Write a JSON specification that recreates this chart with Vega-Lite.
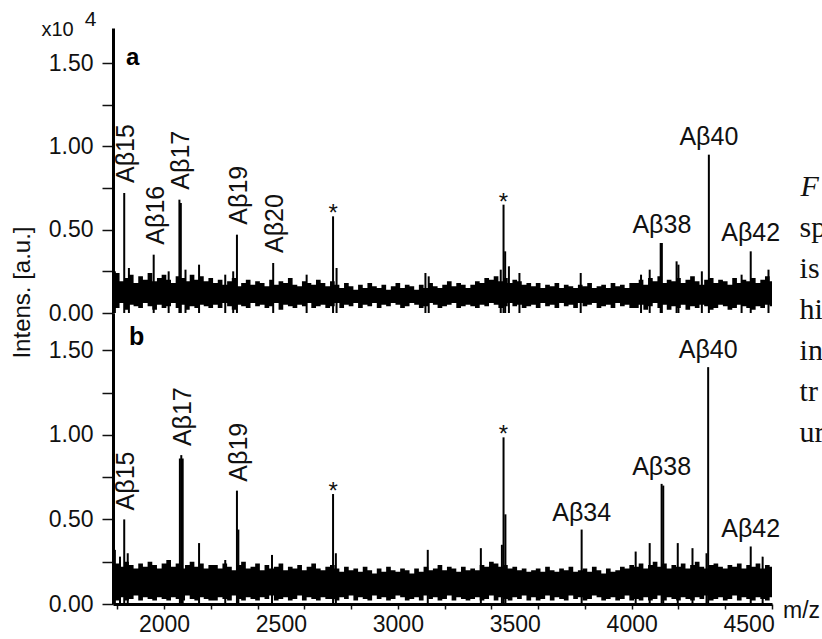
{
"$schema": "https://vega.github.io/schema/vega-lite/v6.json",
"background": "white",
"padding": {"left": 10, "top": 8, "right": 0, "bottom": 0},
"config": {
  "view": {"stroke": null},
  "font": "Liberation Sans",
  "axis": {"grid": false, "domainColor": "#000", "domainWidth": 3, "tickColor": "#111", "tickWidth": 1.5, "labelColor": "#111", "labelFont": "Liberation Sans", "labelFontSize": 23, "titleFont": "Liberation Sans", "titleFontWeight": "normal", "titleColor": "#111", "labelOverlap": false},
  "text": {"font": "Liberation Sans", "color": "#111"}
},
"datasets": {
  "bandA": [
    {"m":1780,"l":0.04,"h":0.22},{"m":1800,"l":0.03,"h":0.24},{"m":1820,"l":0.06,"h":0.19},{"m":1840,"l":0.02,"h":0.21},{"m":1860,"l":0.05,"h":0.23},{"m":1880,"l":0.04,"h":0.18},{"m":1900,"l":0.03,"h":0.22},{"m":1920,"l":0.06,"h":0.20},{"m":1940,"l":0.04,"h":0.24},{"m":1960,"l":0.02,"h":0.19},{"m":1980,"l":0.05,"h":0.21},{"m":2000,"l":0.03,"h":0.23},{"m":2020,"l":0.04,"h":0.20},{"m":2040,"l":0.06,"h":0.18},{"m":2060,"l":0.03,"h":0.22},{"m":2080,"l":0.05,"h":0.21},{"m":2100,"l":0.02,"h":0.19},{"m":2120,"l":0.04,"h":0.23},{"m":2140,"l":0.03,"h":0.20},{"m":2160,"l":0.05,"h":0.22},{"m":2180,"l":0.04,"h":0.19},{"m":2200,"l":0.03,"h":0.21},
    {"m":2220,"l":0.05,"h":0.18},{"m":2240,"l":0.03,"h":0.20},{"m":2260,"l":0.06,"h":0.17},{"m":2280,"l":0.04,"h":0.19},{"m":2300,"l":0.02,"h":0.21},{"m":2320,"l":0.05,"h":0.16},{"m":2340,"l":0.04,"h":0.18},{"m":2360,"l":0.03,"h":0.20},{"m":2380,"l":0.06,"h":0.17},{"m":2400,"l":0.04,"h":0.19},{"m":2420,"l":0.05,"h":0.18},{"m":2440,"l":0.03,"h":0.16},{"m":2460,"l":0.04,"h":0.20},{"m":2480,"l":0.06,"h":0.17},{"m":2500,"l":0.02,"h":0.19},{"m":2520,"l":0.05,"h":0.18},{"m":2540,"l":0.04,"h":0.21},{"m":2560,"l":0.03,"h":0.17},{"m":2580,"l":0.05,"h":0.16},{"m":2600,"l":0.04,"h":0.19},{"m":2620,"l":0.06,"h":0.18},{"m":2640,"l":0.03,"h":0.17},{"m":2660,"l":0.04,"h":0.20},{"m":2680,"l":0.05,"h":0.18},{"m":2700,"l":0.03,"h":0.16},
    {"m":2720,"l":0.04,"h":0.19},{"m":2740,"l":0.06,"h":0.17},{"m":2760,"l":0.03,"h":0.15},{"m":2780,"l":0.05,"h":0.18},{"m":2800,"l":0.04,"h":0.16},{"m":2820,"l":0.06,"h":0.14},{"m":2840,"l":0.03,"h":0.17},{"m":2860,"l":0.05,"h":0.15},{"m":2880,"l":0.04,"h":0.18},{"m":2900,"l":0.06,"h":0.16},{"m":2920,"l":0.03,"h":0.15},{"m":2940,"l":0.05,"h":0.17},{"m":2960,"l":0.04,"h":0.14},{"m":2980,"l":0.06,"h":0.16},{"m":3000,"l":0.05,"h":0.18},{"m":3020,"l":0.03,"h":0.15},{"m":3040,"l":0.04,"h":0.17},{"m":3060,"l":0.06,"h":0.16},{"m":3080,"l":0.05,"h":0.14},{"m":3100,"l":0.03,"h":0.17},{"m":3120,"l":0.04,"h":0.15},{"m":3140,"l":0.06,"h":0.18},{"m":3160,"l":0.05,"h":0.16},{"m":3180,"l":0.03,"h":0.15},{"m":3200,"l":0.04,"h":0.17},{"m":3220,"l":0.05,"h":0.19},{"m":3240,"l":0.06,"h":0.16},{"m":3260,"l":0.03,"h":0.18},{"m":3280,"l":0.04,"h":0.17},{"m":3300,"l":0.05,"h":0.15},
    {"m":3320,"l":0.04,"h":0.17},{"m":3340,"l":0.03,"h":0.19},{"m":3360,"l":0.05,"h":0.18},{"m":3380,"l":0.04,"h":0.21},{"m":3400,"l":0.06,"h":0.20},{"m":3420,"l":0.05,"h":0.22},{"m":3440,"l":0.03,"h":0.19},{"m":3460,"l":0.04,"h":0.21},{"m":3480,"l":0.06,"h":0.18},{"m":3500,"l":0.04,"h":0.20},{"m":3520,"l":0.05,"h":0.19},{"m":3540,"l":0.03,"h":0.17},{"m":3560,"l":0.04,"h":0.18},
    {"m":3580,"l":0.05,"h":0.16},{"m":3600,"l":0.03,"h":0.18},{"m":3620,"l":0.06,"h":0.15},{"m":3640,"l":0.04,"h":0.17},{"m":3660,"l":0.05,"h":0.16},{"m":3680,"l":0.03,"h":0.18},{"m":3700,"l":0.06,"h":0.15},{"m":3720,"l":0.04,"h":0.17},{"m":3740,"l":0.05,"h":0.16},{"m":3760,"l":0.03,"h":0.15},{"m":3780,"l":0.06,"h":0.17},{"m":3800,"l":0.04,"h":0.16},{"m":3820,"l":0.05,"h":0.18},{"m":3840,"l":0.06,"h":0.15},{"m":3860,"l":0.03,"h":0.16},{"m":3880,"l":0.04,"h":0.17},{"m":3900,"l":0.05,"h":0.15},{"m":3920,"l":0.03,"h":0.18},{"m":3940,"l":0.06,"h":0.16},{"m":3960,"l":0.04,"h":0.17},{"m":3980,"l":0.05,"h":0.15},{"m":4000,"l":0.03,"h":0.18},
    {"m":4020,"l":0.03,"h":0.18},{"m":4040,"l":0.05,"h":0.20},{"m":4060,"l":0.02,"h":0.17},{"m":4080,"l":0.04,"h":0.21},{"m":4100,"l":0.06,"h":0.19},{"m":4120,"l":0.03,"h":0.22},{"m":4140,"l":0.05,"h":0.18},{"m":4160,"l":0.02,"h":0.20},{"m":4180,"l":0.04,"h":0.19},{"m":4200,"l":0.03,"h":0.21},{"m":4220,"l":0.05,"h":0.18},{"m":4240,"l":0.02,"h":0.20},{"m":4260,"l":0.04,"h":0.22},{"m":4280,"l":0.03,"h":0.19},{"m":4300,"l":0.05,"h":0.17},{"m":4320,"l":0.04,"h":0.20},{"m":4340,"l":0.02,"h":0.21},{"m":4360,"l":0.03,"h":0.18},{"m":4380,"l":0.05,"h":0.20},{"m":4400,"l":0.04,"h":0.19},{"m":4420,"l":0.02,"h":0.17},{"m":4440,"l":0.03,"h":0.21},{"m":4460,"l":0.05,"h":0.18},{"m":4480,"l":0.04,"h":0.20},{"m":4500,"l":0.03,"h":0.19},{"m":4520,"l":0.02,"h":0.21},{"m":4540,"l":0.04,"h":0.18},{"m":4560,"l":0.03,"h":0.20},{"m":4580,"l":0.05,"h":0.22},{"m":4600,"l":0.04,"h":0.19}
  ],
  "bandB": [
    {"m":1780,"l":0.03,"h":0.26},{"m":1800,"l":0.02,"h":0.24},{"m":1820,"l":0.04,"h":0.22},{"m":1840,"l":0.02,"h":0.25},{"m":1860,"l":0.03,"h":0.23},{"m":1880,"l":0.05,"h":0.21},{"m":1900,"l":0.02,"h":0.24},{"m":1920,"l":0.04,"h":0.22},{"m":1940,"l":0.03,"h":0.25},{"m":1960,"l":0.02,"h":0.23},{"m":1980,"l":0.04,"h":0.21},{"m":2000,"l":0.03,"h":0.24},{"m":2020,"l":0.02,"h":0.26},{"m":2040,"l":0.04,"h":0.22},{"m":2060,"l":0.03,"h":0.24},{"m":2080,"l":0.02,"h":0.21},{"m":2100,"l":0.05,"h":0.23},{"m":2120,"l":0.03,"h":0.25},{"m":2140,"l":0.02,"h":0.22},{"m":2160,"l":0.04,"h":0.24},{"m":2180,"l":0.03,"h":0.21},{"m":2200,"l":0.02,"h":0.23},
    {"m":2220,"l":0.02,"h":0.23},{"m":2240,"l":0.04,"h":0.21},{"m":2260,"l":0.03,"h":0.24},{"m":2280,"l":0.02,"h":0.22},{"m":2300,"l":0.05,"h":0.20},{"m":2320,"l":0.03,"h":0.23},{"m":2340,"l":0.02,"h":0.25},{"m":2360,"l":0.04,"h":0.21},{"m":2380,"l":0.03,"h":0.22},{"m":2400,"l":0.02,"h":0.24},{"m":2420,"l":0.04,"h":0.20},{"m":2440,"l":0.03,"h":0.23},{"m":2460,"l":0.05,"h":0.21},{"m":2480,"l":0.02,"h":0.22},{"m":2500,"l":0.03,"h":0.24},{"m":2520,"l":0.04,"h":0.20},{"m":2540,"l":0.02,"h":0.22},{"m":2560,"l":0.03,"h":0.21},{"m":2580,"l":0.05,"h":0.23},{"m":2600,"l":0.02,"h":0.20},{"m":2620,"l":0.04,"h":0.22},{"m":2640,"l":0.03,"h":0.24},{"m":2660,"l":0.02,"h":0.21},{"m":2680,"l":0.04,"h":0.20},{"m":2700,"l":0.03,"h":0.22},
    {"m":2720,"l":0.03,"h":0.23},{"m":2740,"l":0.02,"h":0.21},{"m":2760,"l":0.04,"h":0.19},{"m":2780,"l":0.03,"h":0.22},{"m":2800,"l":0.05,"h":0.20},{"m":2820,"l":0.02,"h":0.21},{"m":2840,"l":0.04,"h":0.19},{"m":2860,"l":0.03,"h":0.22},{"m":2880,"l":0.02,"h":0.20},{"m":2900,"l":0.05,"h":0.18},{"m":2920,"l":0.03,"h":0.21},{"m":2940,"l":0.04,"h":0.19},{"m":2960,"l":0.02,"h":0.22},{"m":2980,"l":0.03,"h":0.20},{"m":3000,"l":0.05,"h":0.19},{"m":3020,"l":0.04,"h":0.21},{"m":3040,"l":0.02,"h":0.20},{"m":3060,"l":0.03,"h":0.18},{"m":3080,"l":0.04,"h":0.21},{"m":3100,"l":0.02,"h":0.19},{"m":3120,"l":0.05,"h":0.22},{"m":3140,"l":0.03,"h":0.20},{"m":3160,"l":0.04,"h":0.21},{"m":3180,"l":0.02,"h":0.23},{"m":3200,"l":0.03,"h":0.20},{"m":3220,"l":0.05,"h":0.22},{"m":3240,"l":0.02,"h":0.21},{"m":3260,"l":0.04,"h":0.19},{"m":3280,"l":0.03,"h":0.22},{"m":3300,"l":0.02,"h":0.20},
    {"m":3320,"l":0.03,"h":0.21},{"m":3340,"l":0.04,"h":0.20},{"m":3360,"l":0.02,"h":0.23},{"m":3380,"l":0.03,"h":0.22},{"m":3400,"l":0.05,"h":0.25},{"m":3420,"l":0.02,"h":0.24},{"m":3440,"l":0.04,"h":0.22},{"m":3460,"l":0.03,"h":0.23},{"m":3480,"l":0.02,"h":0.21},{"m":3500,"l":0.04,"h":0.22},{"m":3520,"l":0.03,"h":0.20},{"m":3540,"l":0.05,"h":0.21},{"m":3560,"l":0.02,"h":0.19},
    {"m":3580,"l":0.04,"h":0.20},{"m":3600,"l":0.02,"h":0.21},{"m":3620,"l":0.03,"h":0.19},{"m":3640,"l":0.05,"h":0.22},{"m":3660,"l":0.02,"h":0.20},{"m":3680,"l":0.04,"h":0.19},{"m":3700,"l":0.03,"h":0.21},{"m":3720,"l":0.02,"h":0.20},{"m":3740,"l":0.05,"h":0.22},{"m":3760,"l":0.03,"h":0.19},{"m":3780,"l":0.04,"h":0.20},{"m":3800,"l":0.02,"h":0.21},{"m":3820,"l":0.03,"h":0.19},{"m":3840,"l":0.05,"h":0.22},{"m":3860,"l":0.04,"h":0.20},{"m":3880,"l":0.02,"h":0.18},{"m":3900,"l":0.03,"h":0.21},{"m":3920,"l":0.04,"h":0.19},{"m":3940,"l":0.02,"h":0.20},{"m":3960,"l":0.03,"h":0.22},{"m":3980,"l":0.05,"h":0.21},{"m":4000,"l":0.02,"h":0.23},
    {"m":4020,"l":0.03,"h":0.22},{"m":4040,"l":0.02,"h":0.24},{"m":4060,"l":0.04,"h":0.21},{"m":4080,"l":0.02,"h":0.23},{"m":4100,"l":0.03,"h":0.25},{"m":4120,"l":0.05,"h":0.22},{"m":4140,"l":0.02,"h":0.24},{"m":4160,"l":0.04,"h":0.21},{"m":4180,"l":0.03,"h":0.23},{"m":4200,"l":0.02,"h":0.22},{"m":4220,"l":0.04,"h":0.24},{"m":4240,"l":0.03,"h":0.21},{"m":4260,"l":0.02,"h":0.23},{"m":4280,"l":0.04,"h":0.25},{"m":4300,"l":0.03,"h":0.22},{"m":4320,"l":0.05,"h":0.21},{"m":4340,"l":0.02,"h":0.23},{"m":4360,"l":0.03,"h":0.24},{"m":4380,"l":0.04,"h":0.22},{"m":4400,"l":0.02,"h":0.21},{"m":4420,"l":0.03,"h":0.23},{"m":4440,"l":0.05,"h":0.22},{"m":4460,"l":0.02,"h":0.24},{"m":4480,"l":0.04,"h":0.21},{"m":4500,"l":0.03,"h":0.23},{"m":4520,"l":0.02,"h":0.22},{"m":4540,"l":0.04,"h":0.24},{"m":4560,"l":0.03,"h":0.21},{"m":4580,"l":0.02,"h":0.23},{"m":4600,"l":0.04,"h":0.22}
  ],
  "peaksA": [
    {"m":1790,"v":0.25},{"m":1830,"v":0.72,"t":"Aβ15","k":"r"},{"m":1850,"v":0.27},{"m":1956,"v":0.35,"t":"Aβ16","k":"r"},{"m":2020,"v":0.25},{"m":2066,"v":0.68,"t":"Aβ17","k":"r"},{"m":2072,"v":0.66},{"m":2092,"v":0.26},{"m":2150,"v":0.29},{"m":2262,"v":0.23},{"m":2296,"v":0.25},{"m":2312,"v":0.47,"t":"Aβ19","k":"r"},{"m":2467,"v":0.30,"t":"Aβ20","k":"r"},{"m":2610,"v":0.23},{"m":2723,"v":0.58,"t":"*","k":"s"},{"m":2738,"v":0.27},{"m":3118,"v":0.24},{"m":3132,"v":0.22},{"m":3440,"v":0.26},{"m":3452,"v":0.65,"t":"*","k":"s"},{"m":3459,"v":0.37},{"m":3475,"v":0.28},{"m":3520,"v":0.24},{"m":3782,"v":0.24},{"m":4040,"v":0.23},{"m":4077,"v":0.26},{"m":4124,"v":0.42},{"m":4129,"v":0.42,"t":"Aβ38","k":"h"},{"m":4192,"v":0.31},{"m":4200,"v":0.29},{"m":4300,"v":0.25},{"m":4330,"v":0.95,"t":"Aβ40","k":"h"},{"m":4470,"v":0.23},{"m":4509,"v":0.37,"t":"Aβ42","k":"h"},{"m":4585,"v":0.26}
  ],
  "peaksB": [
    {"m":1790,"v":0.32},{"m":1812,"v":0.28},{"m":1830,"v":0.50,"t":"Aβ15","k":"r"},{"m":1845,"v":0.30},{"m":2068,"v":0.86},{"m":2074,"v":0.88,"t":"Aβ17","k":"r"},{"m":2080,"v":0.86},{"m":2150,"v":0.36},{"m":2262,"v":0.26},{"m":2312,"v":0.67,"t":"Aβ19","k":"r"},{"m":2318,"v":0.44},{"m":2462,"v":0.29},{"m":2723,"v":0.65,"t":"*","k":"s"},{"m":2735,"v":0.30},{"m":3128,"v":0.32},{"m":3355,"v":0.33},{"m":3445,"v":0.35},{"m":3452,"v":0.985,"t":"*","k":"s"},{"m":3460,"v":0.53},{"m":3786,"v":0.44,"t":"Aβ34","k":"h"},{"m":4017,"v":0.31},{"m":4077,"v":0.36},{"m":4128,"v":0.71,"t":"Aβ38","k":"h"},{"m":4135,"v":0.70},{"m":4197,"v":0.36},{"m":4260,"v":0.33},{"m":4320,"v":0.30},{"m":4327,"v":1.40,"t":"Aβ40","k":"h"},{"m":4509,"v":0.34,"t":"Aβ42","k":"h"},{"m":4560,"v":0.28}
  ],
  "caption": [
    {"i":1,"t":"F"},{"i":2,"t":"sp"},{"i":3,"t":"is"},{"i":4,"t":"hi"},{"i":5,"t":"in"},{"i":6,"t":"tr"},{"i":7,"t":"ur"}
  ],
  "one": [{"n": 1}]
},
"vconcat": [
  {
    "width": 659, "height": 285,
    "layer": [
      {
        "layer": [
          {"data": {"name": "bandA"}, "mark": {"type": "area", "interpolate": "step", "color": "#000"},
           "encoding": {
             "x": {"field": "m", "type": "quantitative", "scale": {"domain": [1782, 4600], "nice": false, "zero": false},
                   "axis": {"orient": "top", "domain": false, "ticks": false, "labels": false, "title": "4", "titleX": -23, "titleY": -3, "titleAlign": "center", "titleBaseline": "alphabetic", "titleFontSize": 21}},
             "y": {"field": "h", "type": "quantitative", "scale": {"domain": [0, 1.71], "nice": false},
                   "axis": {"values": [0, 0.25, 0.5, 0.75, 1, 1.25, 1.5], "labelExpr": "round(datum.value*100) % 50 == 0 ? format(datum.value, '.2f') : ''", "tickSize": 11, "labelPadding": 9, "title": "x10", "titleAngle": 0, "titleX": -72, "titleY": 7, "titleAlign": "left", "titleBaseline": "alphabetic", "titleFontSize": 20}},
             "y2": {"field": "l"}
           }},
          {"data": {"name": "peaksA"}, "mark": {"type": "rule", "strokeWidth": 2, "color": "#000"},
           "encoding": {"x": {"field": "m", "type": "quantitative"}, "y": {"field": "v", "type": "quantitative"}, "y2": {"datum": 0}}},
          {"data": {"name": "peaksA"}, "transform": [{"filter": "datum.k == 'r'"}],
           "mark": {"type": "text", "angle": 270, "align": "left", "baseline": "middle", "dx": 10, "dy": 2, "fontSize": 25},
           "encoding": {"x": {"field": "m", "type": "quantitative"}, "y": {"field": "v", "type": "quantitative"}, "text": {"field": "t"}}},
          {"data": {"name": "peaksA"}, "transform": [{"filter": "datum.k == 'h'"}],
           "mark": {"type": "text", "align": "center", "baseline": "alphabetic", "dy": -10, "fontSize": 25},
           "encoding": {"x": {"field": "m", "type": "quantitative"}, "y": {"field": "v", "type": "quantitative"}, "text": {"field": "t"}}},
          {"data": {"name": "peaksA"}, "transform": [{"filter": "datum.k == 's'"}],
           "mark": {"type": "text", "align": "center", "baseline": "alphabetic", "dy": 5, "fontSize": 24},
           "encoding": {"x": {"field": "m", "type": "quantitative"}, "y": {"field": "v", "type": "quantitative"}, "text": {"field": "t"}}},
          {"data": {"name": "one"}, "mark": {"type": "text", "align": "left", "baseline": "alphabetic", "fontSize": 24, "fontWeight": "bold", "color": "#000"},
           "encoding": {"x": {"datum": 1838, "type": "quantitative"}, "y": {"datum": 1.49, "type": "quantitative"}, "text": {"value": "a"}}}
        ]
      },
      {
        "data": {"name": "caption"},
        "layer": [
          {"transform": [{"filter": "datum.i == 1"}],
           "mark": {"type": "text", "align": "left", "baseline": "middle", "font": "Liberation Serif", "fontSize": 30, "fontStyle": "italic", "color": "#111"},
           "encoding": {"x": {"datum": 4722, "type": "quantitative"}, "y": {"field": "i", "type": "ordinal", "scale": {"type": "point", "domain": [1,2,3,4,5,6,7], "range": [159, 405], "padding": 0}, "axis": null}, "text": {"field": "t"}}},
          {"transform": [{"filter": "datum.i > 1"}],
           "mark": {"type": "text", "align": "left", "baseline": "middle", "font": "Liberation Serif", "fontSize": 30, "color": "#111"},
           "encoding": {"x": {"datum": 4718, "type": "quantitative"}, "y": {"field": "i", "type": "ordinal"}, "text": {"field": "t"}}}
        ]
      }
    ],
    "resolve": {"scale": {"y": "independent"}}
  },
  {
    "width": 659, "height": 291,
    "layer": [
      {"data": {"name": "bandB"}, "mark": {"type": "area", "interpolate": "step", "color": "#000"},
       "encoding": {
         "x": {"field": "m", "type": "quantitative", "scale": {"domain": [1782, 4600], "nice": false, "zero": false},
               "axis": {"values": [1800,1900,2000,2100,2200,2300,2400,2500,2600,2700,2800,2900,3000,3100,3200,3300,3400,3500,3600,3700,3800,3900,4000,4100,4200,4300,4400,4500,4600], "labels": false, "tickSize": 5, "title": "m/z", "titleX": 688, "titleY": 13, "titleAlign": "center", "titleBaseline": "alphabetic", "titleFontSize": 23}},
         "y": {"field": "h", "type": "quantitative", "scale": {"domain": [0, 1.72], "nice": false},
               "axis": {"values": [0, 0.25, 0.5, 0.75, 1, 1.25, 1.5], "labelExpr": "round(datum.value*100) % 50 == 0 ? format(datum.value, '.2f') : ''", "tickSize": 11, "labelPadding": 9, "title": "Intens. [a.u.]", "titleAngle": 270, "titleX": -91, "titleY": -21, "titleAlign": "center", "titleBaseline": "middle", "titleFontSize": 24}},
         "y2": {"field": "l"}
       }},
      {"data": {"name": "peaksB"}, "mark": {"type": "rule", "strokeWidth": 2, "color": "#000"},
       "encoding": {"x": {"field": "m", "type": "quantitative"}, "y": {"field": "v", "type": "quantitative"}, "y2": {"datum": 0}}},
      {"data": {"name": "peaksB"}, "transform": [{"filter": "datum.k == 'r'"}],
       "mark": {"type": "text", "angle": 270, "align": "left", "baseline": "middle", "dx": 9, "dy": 2, "fontSize": 25},
       "encoding": {"x": {"field": "m", "type": "quantitative"}, "y": {"field": "v", "type": "quantitative"}, "text": {"field": "t"}}},
      {"data": {"name": "peaksB"}, "transform": [{"filter": "datum.k == 'h'"}],
       "mark": {"type": "text", "align": "center", "baseline": "alphabetic", "dy": -9, "fontSize": 25},
       "encoding": {"x": {"field": "m", "type": "quantitative"}, "y": {"field": "v", "type": "quantitative"}, "text": {"field": "t"}}},
      {"data": {"name": "peaksB"}, "transform": [{"filter": "datum.k == 's'"}],
       "mark": {"type": "text", "align": "center", "baseline": "alphabetic", "dy": 5, "fontSize": 24},
       "encoding": {"x": {"field": "m", "type": "quantitative"}, "y": {"field": "v", "type": "quantitative"}, "text": {"field": "t"}}},
      {"data": {"name": "one"}, "mark": {"type": "text", "align": "left", "baseline": "alphabetic", "fontSize": 25, "fontWeight": "bold", "color": "#000"},
       "encoding": {"x": {"datum": 1850, "type": "quantitative"}, "y": {"datum": 1.53, "type": "quantitative"}, "text": {"value": "b"}}}
    ]
  },
  {
    "width": 659, "height": 1,
    "data": {"name": "one"},
    "mark": {"type": "point", "opacity": 0},
    "encoding": {
      "x": {"datum": 3000, "type": "quantitative", "scale": {"domain": [1782, 4600], "nice": false, "zero": false},
            "axis": {"values": [2000, 2500, 3000, 3500, 4000, 4500], "format": "d", "domain": false, "ticks": false, "labelPadding": 8, "labelFontSize": 23, "title": null}}
    }
  }
],
"spacing": 0,
"bounds": "flush"
}
